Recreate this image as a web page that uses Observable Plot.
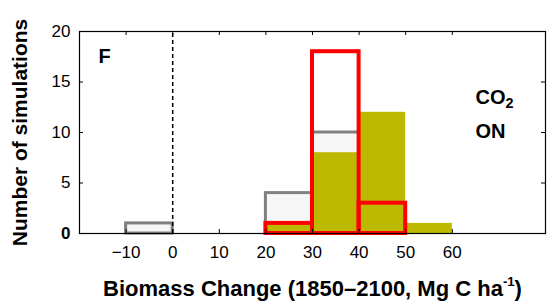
<!DOCTYPE html>
<html><head><meta charset="utf-8">
<script src="https://cdn.jsdelivr.net/npm/d3@7"></script>
<script src="https://cdn.jsdelivr.net/npm/@observablehq/plot@0.6"></script>
<style>
body{margin:0;background:#fff;}
svg{font-family:"Liberation Sans",Arial,sans-serif;}
</style></head>
<body><div id="chart"></div>
<script>
const binStarts = [-10, 0, 10, 20, 30, 40, 50];
const binWidth = 10;
// CO2 ON experiment counts per bin
const grayCounts = [1, 0, 0, 4, 10, 0, 0];
const oliveCounts = [0, 0, 0, 1, 8, 12, 1];
const redCounts = [0, 0, 0, 1, 18, 3, 0];
const xTicks = [-10, 0, 10, 20, 30, 40, 50, 60];
const yTicks = [0, 5, 10, 15, 20];
const xLabel = "Biomass Change (1850\u20132100, Mg C ha-1)";
const yLabel = "Number of simulations";
const panelLabel = "F";
const co2Lines = ["CO2", "ON"];

const mk = counts => binStarts.map((s, i) => ({x1: s, x2: s + binWidth, y: counts[i]})).filter(d => d.y > 0);
const gray = mk(grayCounts), olive = mk(oliveCounts), red = mk(redCounts);

const xt = 0.86, yt = 0.4;
const plot = Plot.plot({
  width: 550, height: 306,
  marginLeft: 79, marginRight: 5, marginTop: 31, marginBottom: 73,
  style: {fontFamily: "Liberation Sans, Arial, sans-serif", background: "#fff"},
  x: {domain: [-20, 80]},
  y: {domain: [0, 20]},
  marks: [
    Plot.rect(gray, {x1: "x1", x2: "x2", y1: 0, y2: "y", fill: "#f6f6f6", stroke: "#808080", strokeWidth: 3, inset: 0}),
    Plot.rect(olive, {x1: "x1", x2: "x2", y1: 0, y2: "y", fill: "#bdb800", inset: 0}),
    Plot.rect(red, {x1: "x1", x2: "x2", y1: 0, y2: "y", fill: "none", stroke: "#ff0000", strokeWidth: 4, inset: 0}),
    Plot.ruleX([0], {y1: 0, y2: 20, stroke: "#000", strokeWidth: 1.5, strokeDasharray: "4,3"}),
    Plot.ruleX(xTicks, {y1: 0, y2: yt, stroke: "#000"}),
    Plot.ruleX(xTicks, {y1: 20, y2: 20 - yt, stroke: "#000"}),
    Plot.ruleY(yTicks, {x1: -20, x2: -20 + xt, stroke: "#000"}),
    Plot.ruleY(yTicks, {x1: 80, x2: 80 - xt, stroke: "#000"}),
    Plot.frame({stroke: "#000", strokeWidth: 1.2}),
    Plot.axisX({ticks: xTicks, tickSize: 0, tickPadding: 12, fontSize: 17, label: null, tickFormat: d => d < 0 ? "\u2212" + Math.abs(d) : String(d)}),
    Plot.axisY({ticks: yTicks, tickSize: 0, tickPadding: 9, fontSize: 17, label: null}),
    Plot.text([xLabel], {frameAnchor: "bottom", dy: 55, lineAnchor: "middle", fontSize: 22, fontWeight: "bold", fill: "#000", textAnchor: "middle"}),
    Plot.text([yLabel], {frameAnchor: "left", dx: -59, rotate: -90, textAnchor: "middle", lineAnchor: "middle", fontSize: 21, fontWeight: "bold", fill: "#000"}),
    Plot.text([panelLabel], {frameAnchor: "top-left", dx: 19, dy: 25, textAnchor: "start", lineAnchor: "middle", fontSize: 20, fontWeight: "bold", fill: "#000"}),
    Plot.text([co2Lines[0]], {frameAnchor: "top-right", dx: -70, dy: 66, textAnchor: "start", lineAnchor: "middle", fontSize: 20, fontWeight: "bold", fill: "#000"}),
    Plot.text([co2Lines[1]], {frameAnchor: "top-right", dx: -70, dy: 100, textAnchor: "start", lineAnchor: "middle", fontSize: 20, fontWeight: "bold", fill: "#000"})
  ]
});
document.getElementById("chart").appendChild(plot);

// typographic sub/superscripts
d3.select(plot).selectAll("text").each(function() {
  const t = d3.select(this);
  if (this.children.length) return;
  const s = this.textContent;
  if (s === "CO2") {
    t.text("CO");
    t.append("tspan").attr("font-size", "0.72em").attr("dy", "0.3em").text("2");
  } else if (s === xLabel) {
    t.text(s.replace("ha-1)", "ha"));
    t.append("tspan").attr("font-size", "0.6em").attr("dy", "-0.7em").text("-1");
    t.append("tspan").attr("dy", "0.42em").text(")");
  }
});
d3.select(plot).selectAll("[aria-label='y-axis tick label'] text").filter(function(){return this.textContent === "0";}).attr("font-weight", "bold");
</script></body></html>
